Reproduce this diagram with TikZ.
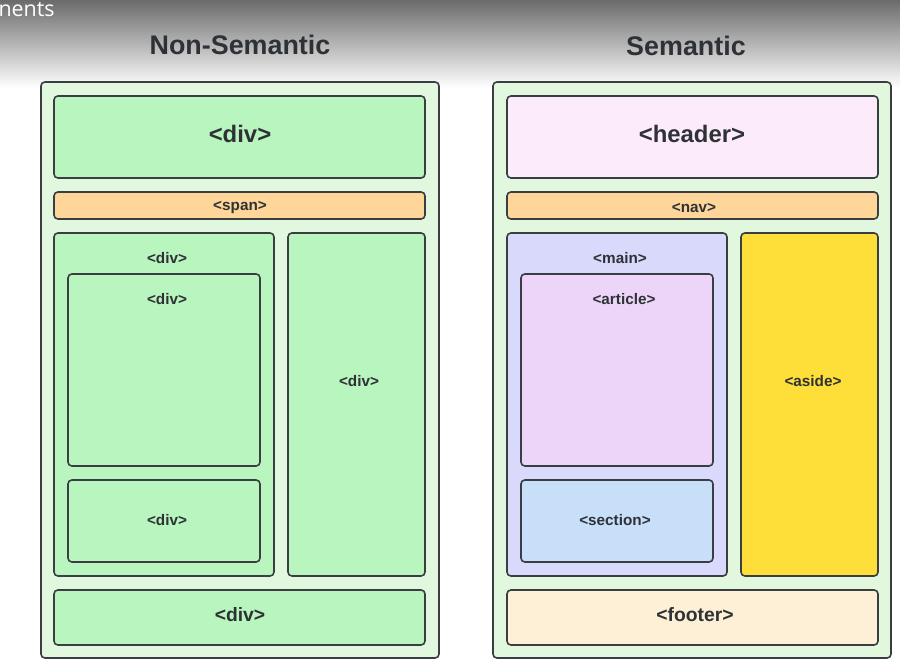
\documentclass[tikz,border=0pt]{standalone}
\usepackage{fontspec}
\setmainfont{Liberation Sans}
\newfontfamily\cutfont{Open Sans}
\definecolor{LineClr}{RGB}{58,62,66}
\definecolor{TextClr}{RGB}{46,50,54}
\definecolor{PageClr}{RGB}{225,248,223}
\definecolor{DivClr}{RGB}{185,245,190}
\definecolor{BarClr}{RGB}{255,214,153}
\definecolor{HeadClr}{RGB}{252,235,250}
\definecolor{MainClr}{RGB}{217,217,251}
\definecolor{ArtClr}{RGB}{237,213,250}
\definecolor{SecClr}{RGB}{200,223,249}
\definecolor{AsideClr}{RGB}{254,223,57}
\definecolor{FootClr}{RGB}{254,240,214}

\begin{document}
\begin{tikzpicture}[x=0.02cm,y=-0.02cm]
\tikzset{box/.style={draw=LineClr,line width=0.9pt,rounded corners=2.2pt},
  lbl/.style={text=TextClr,font=\bfseries\fontsize{8.7}{10}\selectfont,inner sep=0pt},
  biglbl/.style={text=TextClr,font=\bfseries\fontsize{13.6}{16}\selectfont,inner sep=0pt},
  midlbl/.style={text=TextClr,font=\bfseries\fontsize{11}{13}\selectfont,inner sep=0pt},
  title/.style={text=TextClr,font=\bfseries\fontsize{15.3}{18}\selectfont}}

\useasboundingbox (0,0) rectangle (900,671);
\fill[white] (0,0) rectangle (900,671);
\shade[top color=black!58,bottom color=white] (0,0) rectangle (900,88);
\node[anchor=base east,text=white,font=\cutfont\fontsize{12.2}{14}\selectfont,inner sep=0pt] (cut) at (55,17) {nents};

% titles
\node[title] (nsem) at (240,45) {Non-Semantic};
\node[title] (sem) at (686,46) {Semantic};

% non-semantic page
\draw[box,fill=PageClr] (41,82) rectangle (439,658);
\draw[box,fill=DivClr] (54,96) rectangle (425,178);
\draw[box,fill=BarClr] (54,192) rectangle (425,219);
\draw[box,fill=DivClr] (54,233) rectangle (274,576);
\draw[box,fill=DivClr] (288,233) rectangle (425,576);
\draw[box,fill=DivClr] (68,274) rectangle (260,466);
\draw[box,fill=DivClr] (68,480) rectangle (260,562);
\draw[box,fill=DivClr] (54,590) rectangle (425,645);

\node[biglbl] (ndiv) at (240,134) {<div>};
\node[lbl] (nspan) at (240,208) {<span>};
\node[lbl] (nleft) at (167,258) {<div>};
\node[lbl] (ninA) at (167,299) {<div>};
\node[lbl] (nright) at (359,381) {<div>};
\node[lbl] (ninB) at (167,520) {<div>};
\node[midlbl] (nbot) at (240,615) {<div>};

% semantic page
\draw[box,fill=PageClr] (493,82) rectangle (891,658);
\draw[box,fill=HeadClr] (507,96) rectangle (878,178);
\draw[box,fill=BarClr] (507,192) rectangle (878,219);
\draw[box,fill=MainClr] (507,233) rectangle (727,576);
\draw[box,fill=AsideClr] (741,233) rectangle (878,576);
\draw[box,fill=ArtClr] (521,274) rectangle (713,466);
\draw[box,fill=SecClr] (521,480) rectangle (713,562);
\draw[box,fill=FootClr] (507,590) rectangle (878,645);

\node[biglbl] (header) at (692,134) {<header>};
\node[lbl] (nav) at (694,208) {<nav>};
\node[lbl] (main) at (620,258) {<main>};
\node[lbl] (article) at (624,299) {<article>};
\node[lbl] (aside) at (813,381) {<aside>};
\node[lbl] (section) at (615,520) {<section>};
\node[midlbl] (footer) at (695,615) {<footer>};

\end{tikzpicture}
\end{document}
